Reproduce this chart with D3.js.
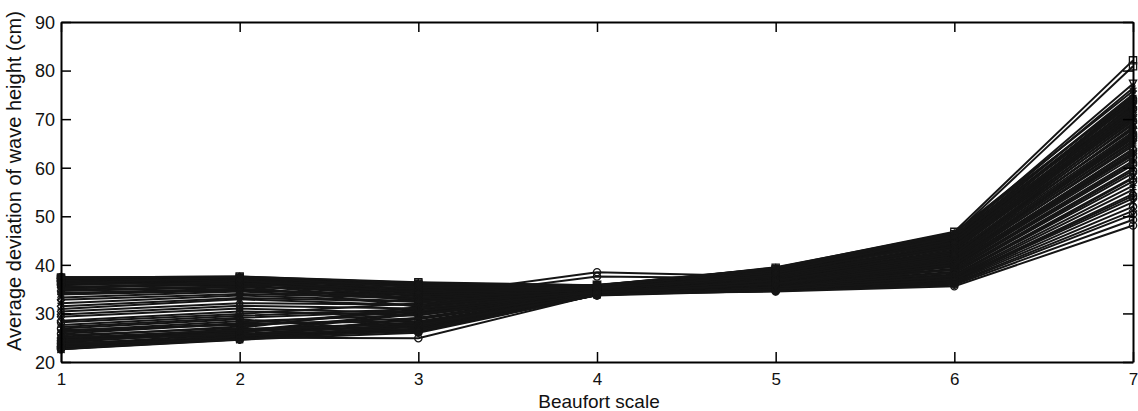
<!DOCTYPE html>
<html><head><meta charset="utf-8">
<script src="https://cdn.jsdelivr.net/npm/d3@7"></script>
<style>
html,body{margin:0;padding:0;background:#fff;}
svg text{font-family:"Liberation Sans",Arial,sans-serif;fill:#111;}
</style></head>
<body><svg id="chart" width="1138" height="411"></svg>
<script>
// Beaufort scale categories
const beaufort = [1, 2, 3, 4, 5, 6, 7];
const xTicks = [1, 2, 3, 4, 5, 6, 7];
const yTicks = [20, 30, 40, 50, 60, 70, 80, 90];
const xLabel = "Beaufort scale";
const yLabel = "Average deviation of wave height (cm)";

// each series: average deviation of wave height (cm) at Beaufort 1..7
const s01 = [37.4, 37.6, 36.4, 35.8, 39.4, 46.8, 82.1];
const s02 = [36.9, 37.3, 36.1, 35.6, 39.1, 46.3, 80.9];
const s03 = [37.1, 36.8, 35.8, 35.9, 38.8, 45.9, 77.3];
const s04 = [36.6, 37.4, 36.3, 35.4, 39.5, 46.6, 75.8];
const s05 = [35.2, 36.2, 35.1, 35.2, 38.6, 45.4, 74.9];
const s06 = [37.5, 37.0, 35.5, 35.7, 39.2, 45.1, 74.2];
const s07 = [34.6, 35.4, 34.8, 34.9, 38.3, 44.8, 73.6];
const s08 = [36.3, 36.5, 36.0, 35.3, 38.9, 44.5, 72.8];
const s09 = [35.8, 36.9, 34.4, 35.0, 38.0, 44.2, 72.1];
const s10 = [33.9, 34.7, 33.9, 34.6, 38.4, 43.9, 71.5];
const s11 = [37.2, 36.1, 35.2, 35.5, 37.7, 43.6, 70.9];
const s12 = [22.8, 25.1, 29.1, 34.4, 37.9, 43.3, 70.2];
const s13 = [36.0, 37.2, 34.9, 34.8, 37.5, 43.0, 69.6];
const s14 = [24.0, 26.3, 30.2, 35.1, 37.3, 42.6, 68.9];
const s15 = [35.5, 35.8, 33.6, 34.7, 37.1, 42.3, 68.1];
const s16 = [23.3, 24.9, 27.4, 34.2, 36.9, 41.9, 67.4];
const s17 = [32.8, 34.0, 33.2, 34.5, 36.7, 41.6, 66.8];
const s18 = [36.8, 36.4, 34.1, 35.0, 37.0, 41.2, 66.0];
const s19 = [25.2, 27.3, 30.8, 34.3, 36.5, 40.9, 65.3];
const s20 = [34.2, 35.1, 32.9, 34.6, 36.4, 40.5, 64.5];
const s21 = [23.0, 25.5, 26.6, 34.0, 36.2, 40.2, 63.6];
const s22 = [31.5, 33.2, 32.4, 34.8, 36.0, 39.8, 62.9];
const s23 = [37.3, 37.5, 33.5, 38.5, 37.6, 39.5, 62.1];
const s24 = [24.6, 26.8, 28.0, 34.1, 35.9, 39.2, 61.4];
const s25 = [35.9, 36.6, 33.0, 37.6, 37.2, 38.9, 60.6];
const s26 = [26.4, 28.4, 29.6, 34.4, 35.7, 38.6, 59.8];
const s27 = [30.4, 32.1, 31.8, 34.7, 35.8, 38.3, 58.9];
const s28 = [22.6, 24.6, 26.9, 33.8, 35.5, 38.0, 58.0];
const s29 = [36.5, 35.9, 32.6, 35.2, 35.6, 37.8, 57.2];
const s30 = [27.6, 29.5, 30.9, 34.3, 35.4, 37.5, 56.3];
const s31 = [23.6, 25.8, 27.7, 33.9, 35.3, 37.3, 55.5];
const s32 = [29.3, 31.0, 30.1, 34.5, 35.2, 37.1, 54.6];
const s33 = [25.8, 27.9, 28.4, 34.0, 35.0, 36.9, 53.7];
const s34 = [34.9, 35.6, 31.4, 34.9, 35.1, 36.7, 52.9];
const s35 = [22.9, 25.2, 26.3, 33.8, 34.9, 36.5, 52.0];
const s36 = [28.5, 30.4, 29.6, 34.2, 34.8, 36.3, 51.1];
const s37 = [24.3, 26.5, 27.1, 33.7, 34.7, 36.1, 50.4];
const s38 = [23.9, 25.0, 24.9, 33.9, 34.6, 35.9, 49.3];
const s39 = [26.9, 28.8, 26.2, 34.1, 34.5, 35.6, 48.1];
const s40 = [23.4, 25.4, 28.8, 34.0, 36.6, 42.8, 73.1];
const s41 = [25.5, 27.0, 31.3, 34.6, 37.4, 44.0, 74.6];
const s42 = [24.8, 26.0, 29.9, 34.3, 36.8, 42.0, 69.2];
const s43 = [37.0, 37.1, 35.0, 35.4, 38.2, 45.6, 75.1];
const s44 = [22.7, 24.7, 27.5, 33.8, 36.1, 40.8, 66.3];
const s45 = [36.2, 36.0, 34.6, 35.1, 37.8, 44.4, 71.8];
const s46 = [26.1, 28.0, 30.4, 34.5, 37.1, 42.9, 70.5];
const s47 = [35.4, 36.3, 33.8, 34.9, 38.5, 44.9, 73.9];
const s48 = [23.1, 25.6, 26.8, 33.9, 35.6, 39.0, 61.0];
const s49 = [33.3, 34.5, 32.9, 34.7, 37.4, 42.5, 67.9];
const s50 = [27.2, 29.1, 30.5, 34.2, 36.3, 40.4, 64.9];
const s51 = [36.7, 37.3, 35.9, 35.6, 39.0, 46.1, 72.5];
const s52 = [24.2, 26.2, 28.2, 34.0, 35.8, 39.6, 62.6];
const s53 = [28.2, 29.9, 32.1, 34.6, 36.4, 41.0, 66.6];
const s54 = [37.4, 37.6, 36.2, 35.8, 39.3, 46.5, 74.4];
const s55 = [23.5, 24.8, 26.5, 33.8, 35.2, 37.7, 57.8];
const s56 = [25.0, 26.6, 27.9, 34.0, 35.9, 39.9, 63.9];
const s57 = [36.4, 37.0, 36.0, 35.5, 38.7, 45.8, 76.4];
const s58 = [34.0, 35.0, 33.3, 34.8, 37.6, 43.4, 70.7];
const s59 = [22.6, 25.3, 27.3, 33.9, 35.4, 38.4, 59.4];
const s60 = [26.6, 27.6, 29.0, 34.1, 36.0, 40.0, 63.2];
const s61 = [37.2, 36.7, 35.7, 35.3, 38.1, 45.2, 73.3];
const s62 = [35.0, 36.8, 34.3, 35.0, 38.4, 44.6, 72.3];
const s63 = [24.5, 25.7, 27.6, 34.0, 36.2, 41.4, 67.1];
const s64 = [30.9, 32.9, 31.7, 34.6, 36.6, 41.7, 68.4];
const s65 = [36.1, 37.5, 35.4, 35.2, 37.9, 43.8, 71.2];
const s66 = [23.8, 24.6, 26.0, 33.8, 35.0, 37.0, 54.2];
const s67 = [32.1, 33.7, 32.5, 34.4, 36.8, 42.2, 69.9];
const s68 = [29.8, 31.6, 31.0, 34.3, 36.1, 40.6, 65.6];

const series = [s01,s02,s03,s04,s05,s06,s07,s08,s09,s10,s11,s12,s13,s14,s15,s16,s17,s18,
  s19,s20,s21,s22,s23,s24,s25,s26,s27,s28,s29,s30,s31,s32,s33,s34,s35,s36,s37,s38,s39,
  s40,s41,s42,s43,s44,s45,s46,s47,s48,s49,s50,s51,s52,s53,s54,s55,s56,s57,s58,s59,s60,
  s61,s62,s63,s64,s65,s66,s67,s68];

// marker symbol per series (MATLAB-like)
const markers = ["square","square","triangledown","star","plus","circle","diamond","cross","circle","plus",
  "diamond","star","circle","triangle","plus","cross","diamond","circle","star","plus",
  "circle","diamond","circle","star","circle","plus","diamond","cross","circle","star",
  "plus","diamond","circle","cross","circle","diamond","circle","circle","circle",
  "star","plus","diamond","cross","circle","plus","star","diamond","circle","cross","plus",
  "diamond","star","circle","plus","circle","diamond","star","cross","circle","plus",
  "diamond","star","circle","plus","cross","circle","star","diamond"];

const m = {left: 61, right: 1133, top: 22, bottom: 362};
const svg = d3.select("#chart");

const x = d3.scaleLinear().domain([1, 7]).range([m.left, m.right]);
const y = d3.scaleLinear().domain([20, 90]).range([m.bottom, m.top]);

svg.append("clipPath").attr("id", "clip").append("rect")
  .attr("x", m.left - 8).attr("y", m.top).attr("width", m.right - m.left + 16).attr("height", m.bottom - m.top);

const plot = svg.append("g").attr("clip-path", "url(#clip)");
const line = d3.line().x((d, i) => x(beaufort[i])).y(d => y(d));

plot.selectAll("path.ser").data(series).join("path")
  .attr("class", "ser")
  .attr("d", d => line(d))
  .attr("fill", "none")
  .attr("stroke", "#151515")
  .attr("stroke-width", 2);

function markerPath(type, cx, cy) {
  const r = 3.6;
  switch (type) {
    case "square": return `M${cx-r},${cy-r}h${2*r}v${2*r}h${-2*r}Z`;
    case "diamond": return `M${cx},${cy-r-1}L${cx+r},${cy}L${cx},${cy+r+1}L${cx-r},${cy}Z`;
    case "triangle": return `M${cx},${cy-r}L${cx+r},${cy+r}L${cx-r},${cy+r}Z`;
    case "triangledown": return `M${cx},${cy+r}L${cx+r},${cy-r}L${cx-r},${cy-r}Z`;
    case "plus": return `M${cx-r},${cy}h${2*r}M${cx},${cy-r}v${2*r}`;
    case "cross": return `M${cx-r},${cy-r}L${cx+r},${cy+r}M${cx-r},${cy+r}L${cx+r},${cy-r}`;
    case "star": return `M${cx-r},${cy}h${2*r}M${cx},${cy-r}v${2*r}M${cx-r*0.7},${cy-r*0.7}L${cx+r*0.7},${cy+r*0.7}M${cx-r*0.7},${cy+r*0.7}L${cx+r*0.7},${cy-r*0.7}`;
    default: return `M${cx+r},${cy}A${r},${r} 0 1 1 ${cx-r},${cy}A${r},${r} 0 1 1 ${cx+r},${cy}`;
  }
}

series.forEach((s, si) => {
  plot.append("g").selectAll("path").data(s).join("path")
    .attr("d", (d, i) => markerPath(markers[si], x(beaufort[i]), y(d)))
    .attr("fill", "none")
    .attr("stroke", "#151515")
    .attr("stroke-width", 1.3);
});

// axes (MATLAB style: inward ticks, full box)
const tickLen = 10;
const axB = svg.append("g").attr("transform", `translate(0,${m.bottom})`)
  .call(d3.axisBottom(x).tickValues(xTicks).tickSizeInner(-tickLen).tickSizeOuter(0).tickPadding(11).tickFormat(d3.format("d")));
const axT = svg.append("g").attr("transform", `translate(0,${m.top})`)
  .call(d3.axisTop(x).tickValues(xTicks).tickSizeInner(-tickLen).tickSizeOuter(0).tickFormat(""));
const axL = svg.append("g").attr("transform", `translate(${m.left},0)`)
  .call(d3.axisLeft(y).tickValues(yTicks).tickSizeInner(-tickLen).tickSizeOuter(0).tickPadding(6).tickFormat(d3.format("d")));
const axR = svg.append("g").attr("transform", `translate(${m.right},0)`)
  .call(d3.axisRight(y).tickValues(yTicks).tickSizeInner(-tickLen).tickSizeOuter(0).tickFormat(""));

[axB, axT, axL, axR].forEach(a => {
  a.select(".domain").attr("stroke", "#000").attr("stroke-width", 2);
  a.selectAll(".tick line").attr("stroke", "#000").attr("stroke-width", 1.5);
  a.selectAll("text").attr("font-size", 17).attr("fill", "#111")
    .attr("font-family", '"Liberation Sans", Arial, sans-serif');
});
axL.selectAll("text").attr("dy", "0.35em").attr("font-size", 18);

svg.append("text").attr("x", (m.left + m.right) / 2 + 2).attr("y", 408)
  .attr("text-anchor", "middle").attr("font-size", 19).text(xLabel);
svg.append("text").attr("transform", `translate(21,181) rotate(-90)`)
  .attr("text-anchor", "middle").attr("font-size", 20).text(yLabel);
</script></body></html>
